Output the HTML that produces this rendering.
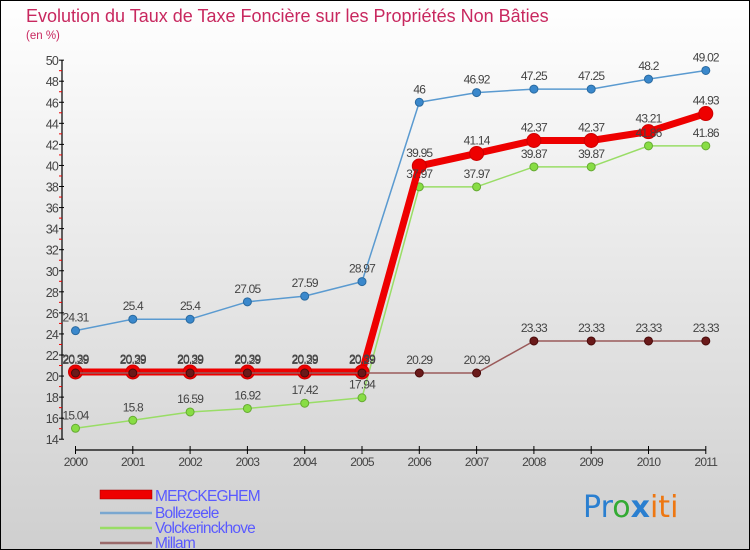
<!DOCTYPE html>
<html><head><meta charset="utf-8"><style>
html,body{margin:0;padding:0}
body{width:750px;height:550px;overflow:hidden}
svg{display:block;font-family:"Liberation Sans","DejaVu Sans",sans-serif}
</style></head><body>
<svg id="chart" width="750" height="550" xmlns="http://www.w3.org/2000/svg">
<defs><linearGradient id="bg" x1="0" y1="0" x2="0" y2="1"><stop offset="0" stop-color="#ffffff"/><stop offset="1" stop-color="#cfcfcf"/></linearGradient></defs>
<rect x="0.5" y="0.5" width="749" height="549" fill="url(#bg)" stroke="#000" stroke-width="1"/>
<text x="26" y="22" font-size="18" fill="#c8285f">Evolution du Taux de Taxe Foncière sur les Propriétés Non Bâties</text>
<text x="26" y="39" font-size="11.5" fill="#c8285f">(en %)</text>
<g id="axes"></g>
<g id="series"></g>
<g id="labels"></g>
<g id="legend">
<rect x="100" y="490" width="52" height="9" fill="#ee0000" stroke="#990000" stroke-width="0.5"/>
<text x="155" y="501" font-size="15.5" fill="#5a5aff" style="letter-spacing:-0.8px">MERCKEGHEM</text>
<line x1="100" y1="513" x2="152" y2="513" stroke="#7aa7d0" stroke-width="2.5"/>
<text x="155" y="518" font-size="15.5" fill="#5a5aff" style="letter-spacing:-0.8px">Bollezeele</text>
<line x1="100" y1="528" x2="152" y2="528" stroke="#99dd66" stroke-width="2.5"/>
<text x="155" y="533" font-size="15.5" fill="#5a5aff" style="letter-spacing:-0.8px">Volckerinckhove</text>
<line x1="100" y1="543" x2="152" y2="543" stroke="#9a6a6a" stroke-width="2.5"/>
<text x="155" y="548" font-size="15.5" fill="#5a5aff" style="letter-spacing:-0.8px">Millam</text>
</g>
<g font-size="30" font-family="'DejaVu Sans',sans-serif">
<text x="583" y="517"><tspan fill="#2a7fd0">Pr</tspan><tspan fill="#33aa33">o</tspan><tspan fill="#2a7fd0" font-weight="bold">x</tspan><tspan fill="#ee7711">iti</tspan></text>
</g>
</svg>
<script>
const years = [2000,2001,2002,2003,2004,2005,2006,2007,2008,2009,2010,2011];
const merckeghem = [20.39,20.39,20.39,20.39,20.39,20.39,39.95,41.14,42.37,42.37,43.21,44.93];
const bollezeele = [24.31,25.4,25.4,27.05,27.59,28.97,46,46.92,47.25,47.25,48.2,49.02];
const volckerinckhove = [15.04,15.8,16.59,16.92,17.42,17.94,37.97,37.97,39.87,39.87,41.86,41.86];
const millam = [20.29,20.29,20.29,20.29,20.29,20.29,20.29,20.29,23.33,23.33,23.33,23.33];
const yTicks = [14,16,18,20,22,24,26,28,30,32,34,36,38,40,42,44,46,48,50];

const NS='http://www.w3.org/2000/svg';
function xs(i){return 75.5+i*57.3;}
function ys(v){return 373-(v-20.29)*10.53;}
function mk(tag,attrs,parent){const e=document.createElementNS(NS,tag);for(const k in attrs)e.setAttribute(k,attrs[k]);parent.appendChild(e);return e;}
const axes=document.getElementById('axes'),ser=document.getElementById('series'),lab=document.getElementById('labels');
let ya=mk('line',{x1:62,y1:ys(50),x2:62,y2:ys(14),stroke:'#000','stroke-width':1.2},axes);


yTicks.forEach(v=>{
  const y=ys(v);
  mk('line',{x1:59,y1:y,x2:64,y2:y,stroke:'#000'},axes);
  mk('line',{x1:59,y1:y-10.53,x2:62,y2:y-10.53,stroke:v<50?'#e00':'none'},axes);
  const t=mk('text',{x:58,y:y+5,'text-anchor':'end','font-size':12.5,fill:'#444','letter-spacing':'-0.8'},axes);
  t.textContent=v;
  
  
});
let xa=mk('line',{x1:xs(0),y1:450,x2:xs(11),y2:450,stroke:'#000','stroke-width':1.2},axes);


years.forEach((yr,i)=>{
  mk('line',{x1:xs(i),y1:446,x2:xs(i),y2:454,stroke:'#000'},axes);
  const t=mk('text',{x:xs(i),y:466,'text-anchor':'middle','font-size':12,fill:'#444','letter-spacing':'-0.8'},axes);
  t.textContent=yr;
  
  
});
function series(name,data,color,w,r,dot,dotStroke){
  const g=mk('g',{},ser);
  
  
  const pts=data.map((v,i)=>xs(i)+','+ys(v)).join(' ');
  const pl=mk('polyline',{points:pts,fill:'none',stroke:color,'stroke-width':w,'stroke-linejoin':'round'},g);
  
  
  data.forEach((v,i)=>{
    const c=mk('circle',{cx:xs(i),cy:ys(v),r:r,fill:dot,stroke:dotStroke,'stroke-width':1},g);
    
    
    const t=mk('text',{x:xs(i),y:ys(v)-9,'text-anchor':'middle','font-size':12,fill:'#444','letter-spacing':'-0.8'},lab);
    t.textContent=String(v);
    
    
  });
}
series('volckerinckhove',volckerinckhove,'#99dd66',1.5,4,'#88dd44','#66aa33');
series('bollezeele',bollezeele,'#5a9ad0',1.5,4,'#3a88cc','#2a6aa0');
series('merckeghem',merckeghem,'#ee0000',7,7,'#ee0000','#cc0000');
series('millam',millam,'#9a5a5a',1.5,4,'#6a1a1a','#4a0a0a');
</script>
</body></html>
